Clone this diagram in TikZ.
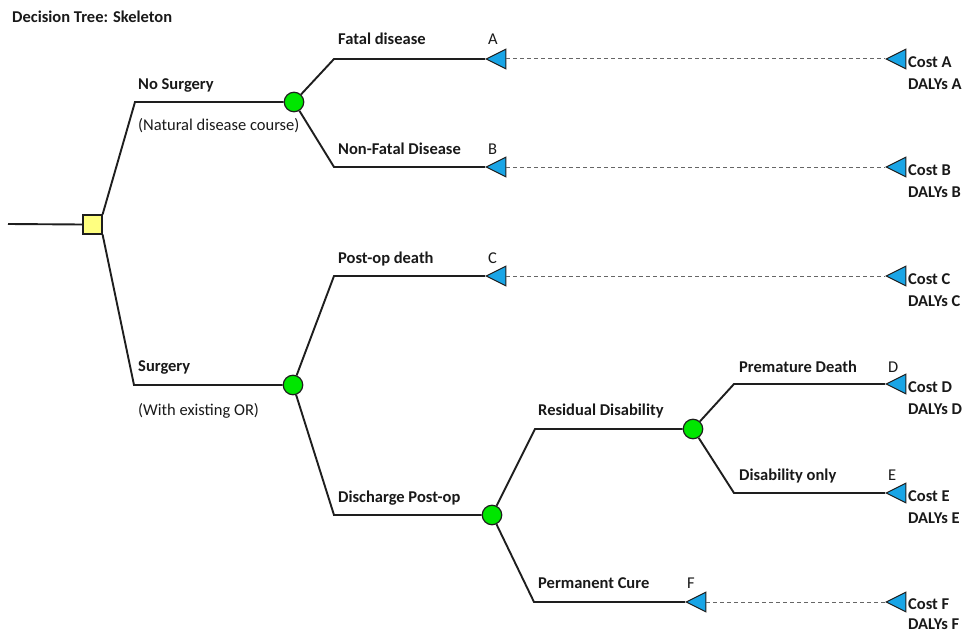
\documentclass[tikz,border=0pt]{standalone}
\usepackage{fontspec}
\setmainfont{Carlito}
\usetikzlibrary{shapes.geometric}
\definecolor{txt}{RGB}{25,25,25}
\definecolor{ln}{RGB}{30,30,30}
\definecolor{chgreen}{RGB}{0,230,0}
\definecolor{decyel}{RGB}{255,255,128}
\definecolor{tblue}{RGB}{25,165,230}
\begin{document}
\begin{tikzpicture}[x=1pt,y=-1pt,
  font=\fontsize{16.5}{19}\selectfont,
  branch/.style={draw=ln, line width=1.9pt, line join=miter},
  dashline/.style={draw=black!60, line width=1pt, dash pattern=on 4pt off 3pt},
  chance/.style={circle, draw=ln, line width=1.2pt, fill=chgreen, minimum size=19.5pt, inner sep=0pt},
  decision/.style={rectangle, draw=ln, line width=1.2pt, fill=decyel, minimum size=19pt, inner sep=0pt},
  term/.style={isosceles triangle, isosceles triangle stretches, shape border rotate=180,
    minimum width=19.5pt, minimum height=19.5pt, inner sep=0pt, fill=tblue, draw=ln, line width=1pt},
  lbl/.style={anchor=base west, inner sep=0pt, text=txt, font=\fontsize{16.5}{19}\selectfont\bfseries},
  plain/.style={anchor=base west, inner sep=0pt, text=txt}]
\useasboundingbox (0,0) rectangle (964,634);

% title
\node[lbl] (title) at (12,23) {Decision Tree: Skeleton};

% decision and chance nodes
\coordinate (root) at (8,224);
\node[decision] (sq) at (92.5,224.5) {};
\node[chance] (c1) at (294,102) {};
\node[chance] (c2) at (293,385) {};
\node[chance] (c3) at (492,515) {};
\node[chance] (c4) at (693,429) {};

% corners
\coordinate (kNo) at (135,102);
\coordinate (kSu) at (134,385);
\coordinate (kA) at (334,59);
\coordinate (kB) at (334,167);
\coordinate (kC) at (334,276);
\coordinate (kDis) at (334,515);
\coordinate (kRes) at (535,429);
\coordinate (kF) at (534,602);
\coordinate (kD) at (734,384);
\coordinate (kE) at (734,493);

% terminal triangles
\node[term, anchor=apex] (tA) at (485,59) {};
\node[term, anchor=apex] (tB) at (485,167) {};
\node[term, anchor=apex] (tC) at (485,276) {};
\node[term, anchor=apex] (tF) at (685,602) {};
\node[term, anchor=apex] (fA) at (885,59) {};
\node[term, anchor=apex] (fB) at (885,167) {};
\node[term, anchor=apex] (fC) at (885,276) {};
\node[term, anchor=apex] (fD) at (885,384) {};
\node[term, anchor=apex] (fE) at (885,493) {};
\node[term, anchor=apex] (fF) at (885,602) {};

% branches
\draw[branch] (root) -- (sq.west);
\draw[branch] (sq.north east) -- (kNo) -- (c1.west);
\draw[branch] (sq.south east) -- (kSu) -- (c2.west);
\draw[branch] (c1) -- (kA) -- (tA.apex);
\draw[branch] (c1) -- (kB) -- (tB.apex);
\draw[branch] (c2) -- (kC) -- (tC.apex);
\draw[branch] (c2) -- (kDis) -- (c3.west);
\draw[branch] (c3) -- (kRes) -- (c4.west);
\draw[branch] (c3) -- (kF) -- (tF.apex);
\draw[branch] (c4) -- (kD) -- (fD.apex);
\draw[branch] (c4) -- (kE) -- (fE.apex);

% dashed connectors
\draw[dashline] (tA.lower side) -- (fA.apex);
\draw[dashline] (tB.lower side) -- (fB.apex);
\draw[dashline] (tC.lower side) -- (fC.apex);
\draw[dashline] (tF.lower side) -- (fF.apex);

% branch labels
\node[lbl] (lNo) at (138,89) {No Surgery};
\node[plain] (lNat) at (138,130) {(Natural disease course)};
\node[lbl] (lSu) at (138,371) {Surgery};
\node[plain] (lOR) at (138,415) {(With existing OR)};
\node[lbl] (lA) at (338,45) {Fatal disease};
\node[lbl] (lB) at (338,154) {Non-Fatal Disease};
\node[lbl] (lC) at (338,263) {Post-op death};
\node[lbl] (lDis) at (338,502) {Discharge Post-op};
\node[lbl] (lRes) at (538,415) {Residual Disability};
\node[lbl] (lF) at (538,588) {Permanent Cure};
\node[lbl] (lD) at (739,372) {Premature Death};
\node[lbl] (lE) at (739,480) {Disability only};

% letters
\node[plain] (xA) at (488,45) {A};
\node[plain] (xB) at (488,154) {B};
\node[plain] (xC) at (488,263) {C};
\node[plain] (xF) at (687,588) {F};
\node[plain] (xD) at (888,372) {D};
\node[plain] (xE) at (888,480) {E};

% outcomes
\node[lbl] (oA1) at (908,67) {Cost A};
\node[lbl] (oA2) at (908,89) {DALYs A};
\node[lbl] (oB1) at (908,175) {Cost B};
\node[lbl] (oB2) at (908,197) {DALYs B};
\node[lbl] (oC1) at (908,284) {Cost C};
\node[lbl] (oC2) at (908,306) {DALYs C};
\node[lbl] (oD1) at (908,392) {Cost D};
\node[lbl] (oD2) at (908,414) {DALYs D};
\node[lbl] (oE1) at (908,501) {Cost E};
\node[lbl] (oE2) at (908,523) {DALYs E};
\node[lbl] (oF1) at (908,609) {Cost F};
\node[lbl] (oF2) at (908,629) {DALYs F};
\end{tikzpicture}
\end{document}
